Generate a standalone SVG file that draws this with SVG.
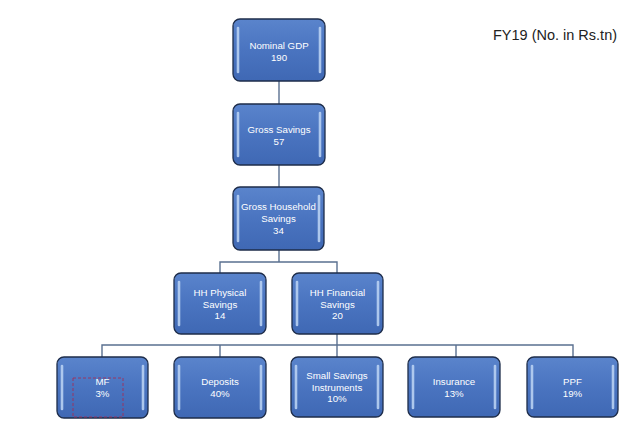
<svg xmlns="http://www.w3.org/2000/svg" width="632" height="428" viewBox="0 0 632 428">
<defs>
<linearGradient id="g" x1="0" y1="0" x2="0" y2="1">
<stop offset="0" stop-color="#5a84cc"/>
<stop offset="0.5" stop-color="#4a74c0"/>
<stop offset="1" stop-color="#3f68b4"/>
</linearGradient>
</defs>
<style>
.box{fill:url(#g);stroke:#1e2d4a;stroke-width:1.3}
.hl{stroke:#b8d0f2;stroke-width:2.6;stroke-linecap:round;fill:none;opacity:0.9}
.t{font-family:"Liberation Sans",Arial,sans-serif;font-size:9.7px;fill:#ffffff;text-anchor:middle}
.c{stroke:#5a7090;stroke-width:1.4;fill:none}
</style>
<rect width="632" height="428" fill="#ffffff"/>
<g id="connectors">
<line class="c" x1="279" y1="81" x2="279" y2="104"/>
<line class="c" x1="279" y1="165" x2="279" y2="187"/>
<polyline class="c" points="279,250 279,262"/>
<polyline class="c" points="220,273 220,262 337,262 337,273"/>
<line class="c" x1="337" y1="334" x2="337" y2="345"/>
<polyline class="c" points="102,357 102,345 573,345 573,357"/>
<line class="c" x1="220" y1="345" x2="220" y2="357"/>
<line class="c" x1="337" y1="345" x2="337" y2="357"/>
<line class="c" x1="456" y1="345" x2="456" y2="357"/>
</g>
<text x="555" y="40" font-family="Liberation Sans,Arial,sans-serif" font-size="14.5" fill="#222" text-anchor="middle">FY19 (No. in Rs.tn)</text>
<g id="n1">
<rect class="box" x="233" y="19" width="92" height="62" rx="7"/>
<line class="hl" x1="238" y1="28" x2="238" y2="72"/><line class="hl" x1="320" y1="28" x2="320" y2="72"/>
<text class="t" x="279" y="48.5">Nominal GDP</text><text class="t" x="279" y="60.5">190</text>
</g>
<g id="n2">
<rect class="box" x="233" y="104" width="92" height="61" rx="7"/>
<line class="hl" x1="238" y1="113" x2="238" y2="156"/><line class="hl" x1="320" y1="113" x2="320" y2="156"/>
<text class="t" x="279" y="132.5">Gross Savings</text><text class="t" x="279" y="144.5">57</text>
</g>
<g id="n3">
<rect class="box" x="233" y="187" width="91" height="63" rx="7"/>
<line class="hl" x1="238" y1="196" x2="238" y2="241"/><line class="hl" x1="319" y1="196" x2="319" y2="241"/>
<text class="t" x="278.5" y="209.5">Gross Household</text><text class="t" x="278.5" y="222">Savings</text><text class="t" x="278.5" y="234">34</text>
</g>
<g id="n4">
<rect class="box" x="174" y="273" width="92" height="61" rx="7"/>
<line class="hl" x1="179" y1="282" x2="179" y2="325"/><line class="hl" x1="261" y1="282" x2="261" y2="325"/>
<text class="t" x="220" y="295.5">HH Physical</text><text class="t" x="220" y="307.5">Savings</text><text class="t" x="220" y="319">14</text>
</g>
<g id="n5">
<rect class="box" x="292" y="273" width="91" height="61" rx="7"/>
<line class="hl" x1="297" y1="282" x2="297" y2="325"/><line class="hl" x1="378" y1="282" x2="378" y2="325"/>
<text class="t" x="337.5" y="295.5">HH Financial</text><text class="t" x="337.5" y="307.5">Savings</text><text class="t" x="337.5" y="319">20</text>
</g>
<g id="n6">
<rect class="box" x="57" y="357" width="91" height="61" rx="7"/>
<line class="hl" x1="62" y1="366" x2="62" y2="409"/><line class="hl" x1="143" y1="366" x2="143" y2="409"/>
<text class="t" x="102.5" y="385">MF</text><text class="t" x="102.5" y="397">3%</text>
<rect x="73" y="378" width="50" height="39" fill="none" stroke="#a0305a" stroke-width="0.9" stroke-dasharray="3,2"/>
</g>
<g id="n7">
<rect class="box" x="174" y="357" width="92" height="61" rx="7"/>
<line class="hl" x1="179" y1="366" x2="179" y2="409"/><line class="hl" x1="261" y1="366" x2="261" y2="409"/>
<text class="t" x="220" y="385">Deposits</text><text class="t" x="220" y="397">40%</text>
</g>
<g id="n8">
<rect class="box" x="291" y="357" width="92" height="60" rx="7"/>
<line class="hl" x1="296" y1="366" x2="296" y2="408"/><line class="hl" x1="378" y1="366" x2="378" y2="408"/>
<text class="t" x="337" y="378.5">Small Savings</text><text class="t" x="337" y="390.5">Instruments</text><text class="t" x="337" y="402">10%</text>
</g>
<g id="n9">
<rect class="box" x="408" y="357" width="92" height="60" rx="7"/>
<line class="hl" x1="413" y1="366" x2="413" y2="408"/><line class="hl" x1="495" y1="366" x2="495" y2="408"/>
<text class="t" x="454" y="385">Insurance</text><text class="t" x="454" y="397">13%</text>
</g>
<g id="n10">
<rect class="box" x="527" y="357" width="91" height="60" rx="7"/>
<line class="hl" x1="532" y1="366" x2="532" y2="408"/><line class="hl" x1="613" y1="366" x2="613" y2="408"/>
<text class="t" x="572.5" y="385">PPF</text><text class="t" x="572.5" y="397">19%</text>
</g>
</svg>
